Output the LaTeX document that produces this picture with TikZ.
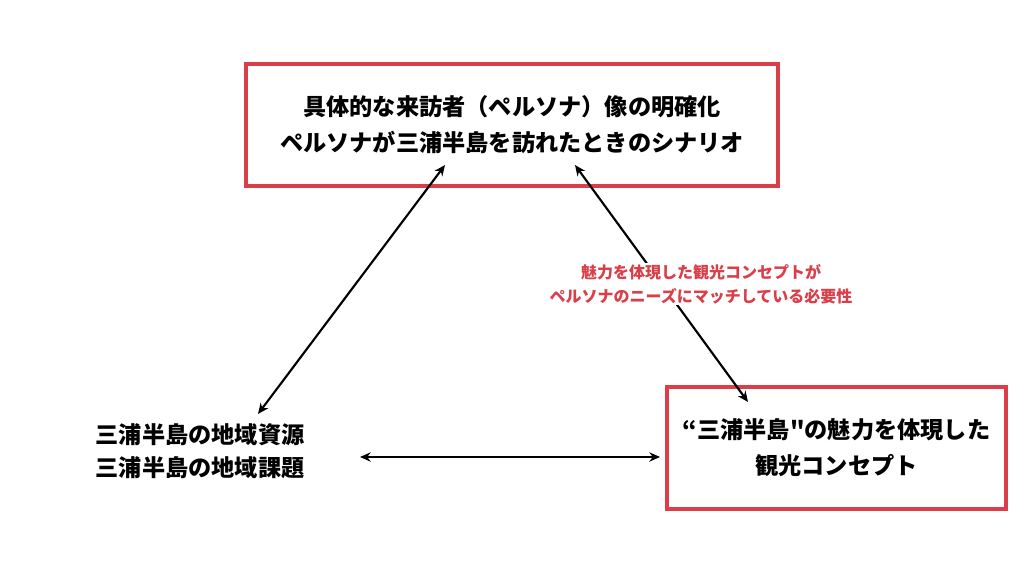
\documentclass[tikz,border=0pt]{standalone}
\usepackage{fontspec}
\newfontfamily\jp{Noto Sans CJK JP}
\usetikzlibrary{arrows.meta}
\definecolor{boxred}{RGB}{218,62,72}
\tikzset{
  redbox/.style={draw=boxred,line width=2.6pt,minimum width=399pt,minimum height=91.5pt,align=center,font=\jp\bfseries\fontsize{17.4}{27}\selectfont},
  plain/.style={align=center,font=\jp\bfseries\fontsize{17.4}{25}\selectfont},
  note/.style={align=center,text=boxred,fill=white,inner sep=1pt,font=\jp\bfseries\fontsize{12}{18}\selectfont},
  link/.style={{Stealth[length=8pt,width=7pt]}-{Stealth[length=8pt,width=7pt]},line width=1.6pt}
}
\begin{document}
\begin{tikzpicture}[x=0.75pt,y=-0.75pt]
    \useasboundingbox (0,0) rectangle (1024,576);

    % Boxes
    \node[redbox] (persona) at (512,125) {具体的な来訪者（ペルソナ）像の明確化\\ペルソナが三浦半島を訪れたときのシナリオ};
    \node[redbox,minimum width=254pt] (concept) at (836.5,448) {“三浦半島"の魅力を体現した\\観光コンセプト};

    % Left text
    \node[plain] (resource) at (200,451) {三浦半島の地域資源\\三浦半島の地域課題};

    % Arrow ends
    \coordinate (pl) at (445,165);
    \coordinate (pr) at (575,165);
    \coordinate (rl) at (258,414);
    \coordinate (rh) at (360,457);
    \coordinate (cl) at (660,457);
    \coordinate (ct) at (748,402);

    % Arrows
    \draw[link] (pl) -- (rl);
    \draw[link] (rh) -- (cl);
    \draw[link] (pr) -- (ct);

    % Label on the right arrow
    \node[note] (need) at (701,284) {魅力を体現した観光コンセプトが\\ペルソナのニーズにマッチしている必要性};

\end{tikzpicture}
\end{document}
